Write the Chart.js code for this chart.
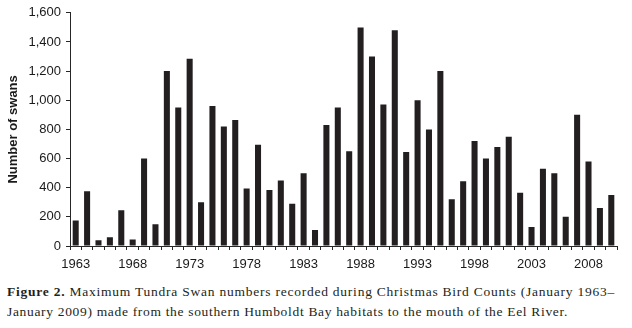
<!DOCTYPE html>
<html>
<head>
<meta charset="utf-8">
<script src="https://cdn.jsdelivr.net/npm/chart.js@4.4.1/dist/chart.umd.min.js"></script>
<style>
  body { margin: 0; background: #fff; }
  #wrap { position: relative; width: 632px; height: 328px; }
  #swans { position: absolute; left: 0; top: 0; }
  .caption {
    position: absolute; left: 7px; top: 282px;
    font-family: "Liberation Serif", serif; font-size: 13.5px; line-height: 20px;
    color: #231f20; white-space: nowrap;
  }
  .caption span { display: block; }
</style>
</head>
<body>
<div id="wrap">
  <canvas id="swans" width="632" height="272"></canvas>
  <div class="caption">
    <span data-width="608"><b>Figure 2.</b> Maximum Tundra Swan numbers recorded during Christmas Bird Counts (January 1963–</span>
    <span data-width="561">January 2009) made from the southern Humboldt Bay habitats to the mouth of the Eel River.</span>
  </div>
</div>
<script>
// count years (one bar each)
const years = [
    1963, 1964, 1965, 1966, 1967, 1968, 1969, 1970, 1971, 1972,
    1973, 1974, 1975, 1976, 1977, 1978, 1979, 1980, 1981, 1982,
    1983, 1984, 1985, 1986, 1987, 1988, 1989, 1990, 1991, 1992,
    1993, 1994, 1995, 1996, 1997, 1998, 1999, 2000, 2001, 2002,
    2003, 2004, 2005, 2006, 2007, 2008, 2009, 2010
];

// maximum tundra swans counted
const swanCounts = [
    175, 375, 40, 60, 245, 45, 600, 150, 1200, 950,
    1285, 300, 960, 820, 865, 395, 695, 385, 450, 290,
    500, 110, 830, 950, 650, 1500, 1300, 970, 1480, 645,
    1000, 800, 1200, 320, 445, 720, 600, 680, 750, 365,
    130, 530, 500, 200, 900, 580, 260, 350
];

// years that get a label on the x axis
const yearLabels = [1963, 1968, 1973, 1978, 1983, 1988, 1993, 1998, 2003, 2008];

const axisColor = "#262626";

// stretch each caption line to its column width
document.querySelectorAll(".caption span").forEach(function(line) {
    const target = Number(line.dataset.width);
    const natural = line.getBoundingClientRect().width;
    const range = document.createRange();
    range.selectNodeContents(line);
    const textWidth = range.getBoundingClientRect().width;
    const chars = line.textContent.length;
    line.style.letterSpacing = ((target - textWidth) / chars) + "px";
});

Chart.defaults.font.family = "'Liberation Sans', Arial, sans-serif";
Chart.defaults.font.size = 13;
Chart.defaults.color = "#1a1a1a";

const ctx = document.getElementById("swans");

const graph = new Chart(ctx, {
    type: "bar",
    data: {
        labels: years.map(String),
        datasets: [
            {
                label: "Number of swans",
                data: swanCounts,
                backgroundColor: "#231f20",
                borderWidth: 0,
                barPercentage: 0.53,
                categoryPercentage: 1
            }
        ]
    },
    options: {
        responsive: false,
        animation: false,
        events: [],
        layout: {
            padding: { left: 0, right: 15, top: 12, bottom: 0 }
        },
        scales: {
            x: {
                offset: true,
                afterFit: function(scale) {
                    scale.height = 26;
                },
                border: { color: axisColor, width: 1 },
                grid: {
                    offset: true,
                    drawOnChartArea: false,
                    drawTicks: true,
                    tickLength: 4,
                    color: axisColor
                },
                ticks: {
                    autoSkip: false,
                    maxRotation: 0,
                    minRotation: 0,
                    padding: 7,
                    callback: function(value, index) {
                        const year = years[index];
                        return yearLabels.includes(year) ? String(year) : "";
                    }
                }
            },
            y: {
                min: 0,
                max: 1600,
                afterFit: function(scale) {
                    scale.width = 70;
                },
                border: { color: axisColor, width: 1 },
                grid: {
                    drawOnChartArea: false,
                    drawTicks: true,
                    tickLength: 4,
                    color: axisColor
                },
                ticks: {
                    stepSize: 200,
                    padding: 5,
                    callback: function(value) {
                        return value.toLocaleString("en-US");
                    }
                },
                title: {
                    display: true,
                    text: "Number of swans",
                    font: { weight: "bold", size: 13 },
                    padding: { top: 6, bottom: 0 }
                }
            }
        },
        plugins: {
            legend: { display: false },
            tooltip: { enabled: false }
        }
    }
});
</script>
</body>
</html>
